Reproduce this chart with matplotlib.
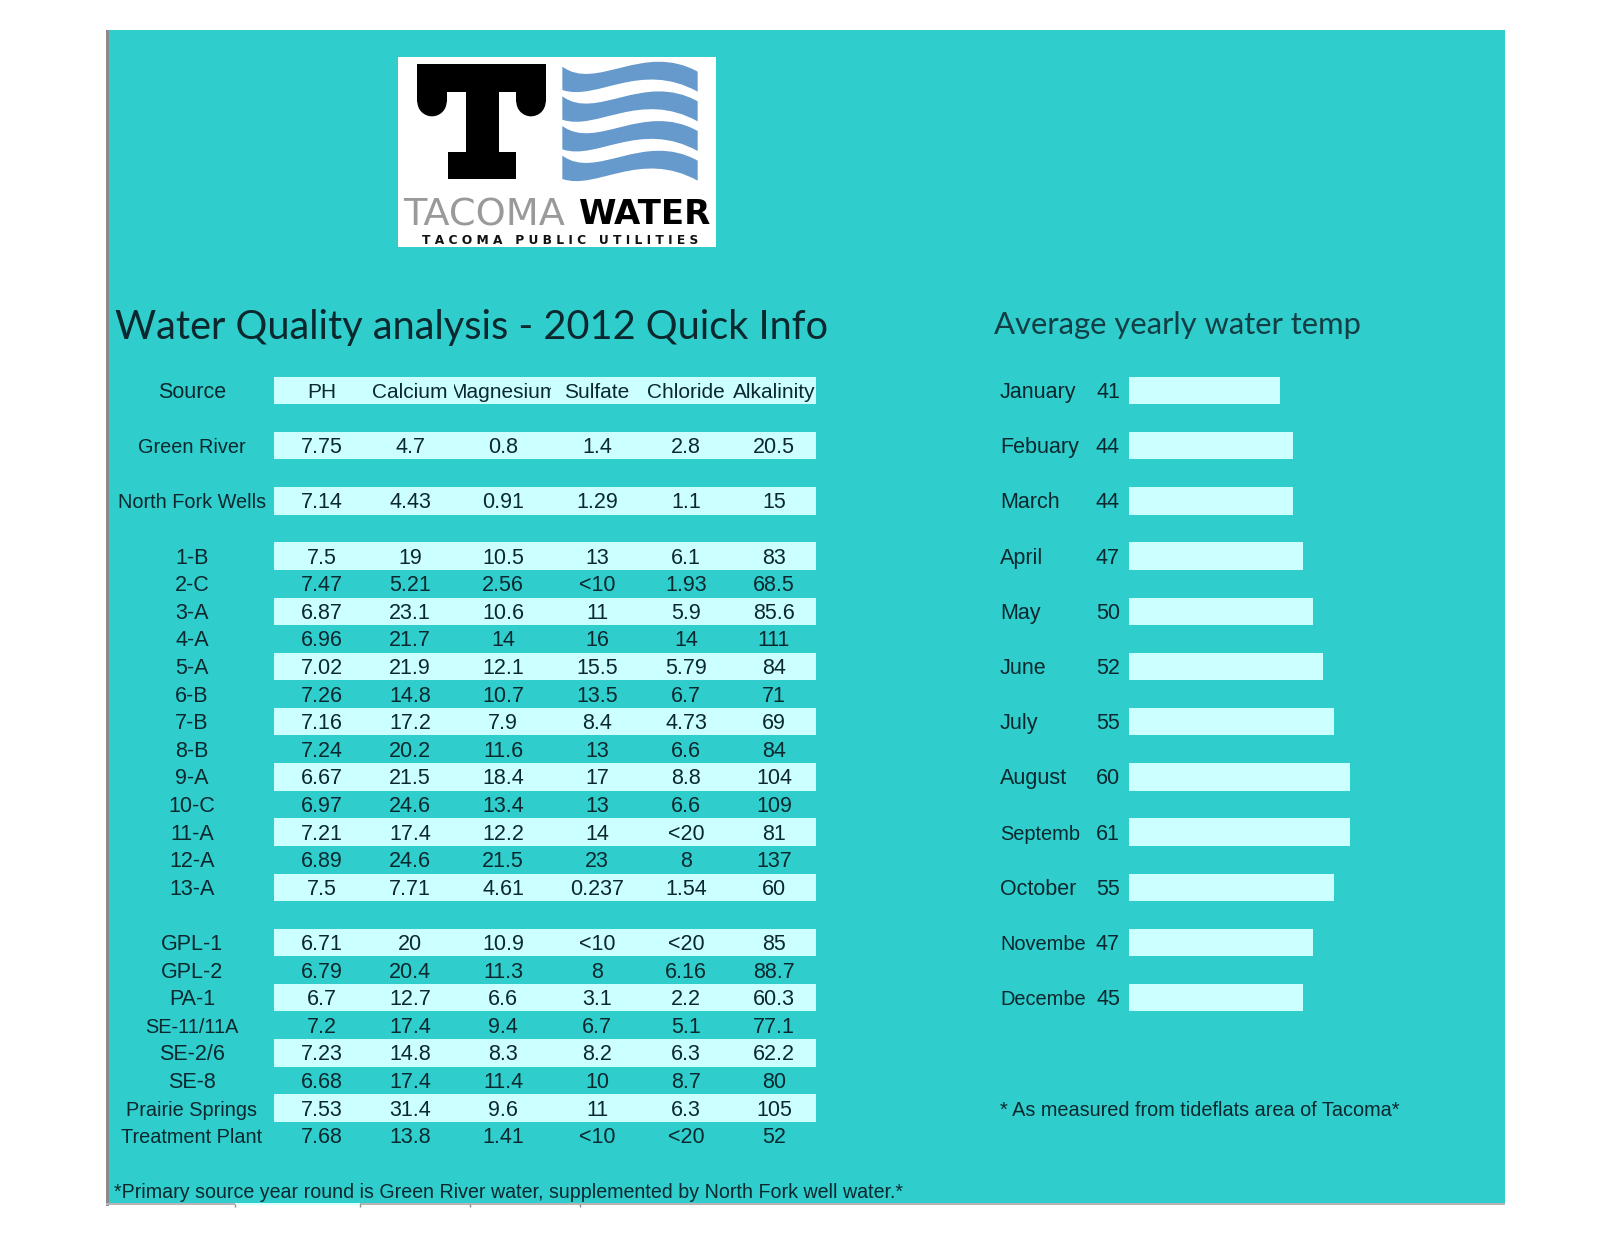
from matplotlib import pyplot as plt
from matplotlib.patches import PathPatch, Rectangle, Circle
from matplotlib.path import Path
from matplotlib.transforms import Bbox, TransformedBbox

# table data, strings kept as printed on the sheet
sources = ['Green River', 'North Fork Wells', '1-B', '2-C', '3-A', '4-A', '5-A', '6-B', '7-B', '8-B',
           '9-A', '10-C', '11-A', '12-A', '13-A', 'GPL-1', 'GPL-2', 'PA-1', 'SE-11/11A', 'SE-2/6',
           'SE-8', 'Prairie Springs', 'Treatment Plant']
source_rows = [2, 4, 6, 7, 8, 9, 10, 11, 12, 13, 14, 15, 16, 17, 18, 20, 21, 22, 23, 24, 25, 26, 27]
columns = ['PH', 'Calcium', 'Magnesium', 'Sulfate', 'Chloride', 'Alkalinity']
ph = ['7.75', '7.14', '7.5', '7.47', '6.87', '6.96', '7.02', '7.26', '7.16', '7.24', '6.67', '6.97',
      '7.21', '6.89', '7.5', '6.71', '6.79', '6.7', '7.2', '7.23', '6.68', '7.53', '7.68']
calcium = ['4.7', '4.43', '19', '5.21', '23.1', '21.7', '21.9', '14.8', '17.2', '20.2', '21.5', '24.6',
           '17.4', '24.6', '7.71', '20', '20.4', '12.7', '17.4', '14.8', '17.4', '31.4', '13.8']
magnesium = ['0.8', '0.91', '10.5', '2.56', '10.6', '14', '12.1', '10.7', '7.9', '11.6', '18.4', '13.4',
             '12.2', '21.5', '4.61', '10.9', '11.3', '6.6', '9.4', '8.3', '11.4', '9.6', '1.41']
sulfate = ['1.4', '1.29', '13', '<10', '11', '16', '15.5', '13.5', '8.4', '13', '17', '13',
           '14', '23', '0.237', '<10', '8', '3.1', '6.7', '8.2', '10', '11', '<10']
chloride = ['2.8', '1.1', '6.1', '1.93', '5.9', '14', '5.79', '6.7', '4.73', '6.6', '8.8', '6.6',
            '<20', '8', '1.54', '<20', '6.16', '2.2', '5.1', '6.3', '8.7', '6.3', '<20']
alkalinity = ['20.5', '15', '83', '68.5', '85.6', '111', '84', '71', '69', '84', '104', '109',
              '81', '137', '60', '85', '88.7', '60.3', '77.1', '62.2', '80', '105', '52']
# rows with the pale band behind them
band_rows = [0, 2, 4, 6, 8, 10, 12, 14, 16, 18, 20, 22, 24, 26]

# three month names are cut off by the column on the sheet
months = ['January', 'Febuary', 'March', 'April', 'May', 'June', 'July', 'August', 'Septemb',
          'October', 'Novembe', 'Decembe']
cut_months = ['Septemb', 'Novembe', 'Decembe']
month_rows = [0, 2, 4, 6, 8, 10, 12, 14, 16, 18, 20, 22]
temps = [41, 44, 44, 47, 50, 52, 55, 60, 61, 55, 47, 45]
bar_lengths = [41, 44.6, 44.6, 47.3, 50, 52.7, 55.7, 60, 60, 55.7, 50, 47.3]

TEAL = '#30cdcd'
PALE = '#ccffff'
INK = '#0a282d'
SHEET = 'Liberation Sans'

fig = plt.figure(figsize=(16, 12.36), dpi=100, facecolor='white')
ax = fig.add_axes([0, 0, 1, 1])
ax.set_xlim(0, 1600)
ax.set_ylim(1236, 0)
ax.axis('off')


def row_y(r):
    return 390.5 + 27.6 * r


def clipped(x, y, s, x0, x1, size, **kw):
    t = ax.text(x, y, s, va='center', family=SHEET, fontsize=size, color=INK, **kw)
    t.set_clip_box(TransformedBbox(Bbox([[x0, y - 14], [x1, y + 14]]), ax.transData))
    t.set_clip_on(True)
    return t


def draw_logo():
    # logo drawn in zoomed crop units
    def lx(v):
        return 380 + v / 3

    def ly(v):
        return 40 + v / 3

    ax.add_patch(Rectangle((398, 57), 318, 190, fc='white', ec='none', zorder=2))
    black = [(112, 73, 385, 82), (112, 73, 88, 112), (409, 73, 88, 112), (257, 150, 100, 190), (203, 335, 205, 82)]
    for x, y, w, h in black:
        ax.add_patch(Rectangle((lx(x), ly(y)), w / 3, h / 3, fc='black', ec='none', zorder=3))
    for cx in [156, 453]:
        ax.add_patch(Circle((lx(cx), ly(185)), 44 / 3, fc='black', ec='none', zorder=3))
    for i in range(4):
        dy = 89 * i
        verts = [(547, 80), (650, 155), (790, 5), (953, 95), (953, 155), (780, 60), (650, 185), (547, 150), (547, 80)]
        verts = [(lx(x), ly(y + dy)) for x, y in verts]
        codes = [Path.MOVETO, Path.CURVE4, Path.CURVE4, Path.CURVE4, Path.LINETO,
                 Path.CURVE4, Path.CURVE4, Path.CURVE4, Path.CLOSEPOLY]
        ax.add_patch(PathPatch(Path(verts, codes), fc='#6699cc', ec='none', zorder=3))
    ax.text(lx(68), ly(525), 'TACOMA', family='DejaVu Sans', fontsize=27.5, color='#9a9a9a',
            va='center', ha='left', zorder=4)
    ax.text(lx(598), ly(525), 'WATER', family='DejaVu Sans', fontweight='bold', fontsize=24.5, color='black',
            va='center', ha='left', zorder=4)
    ax.text(lx(540), ly(600), 'T A C O M A   P U B L I C   U T I L I T I E S', family='DejaVu Sans',
            fontweight='bold', fontsize=8.8, color='#111111', va='center', ha='center', zorder=4)


# sheet background and its grey edges
ax.add_patch(Rectangle((106, 30), 1399, 1174, fc=TEAL, ec='none', zorder=0))
ax.add_patch(Rectangle((105.5, 30), 3, 1176, fc='#8a8a8a', ec='none', zorder=1))
ax.add_patch(Rectangle((106, 1203), 1399, 2, fc='#b5b5b5', ec='none', zorder=1))
ax.add_patch(Rectangle((235, 1203), 125, 2, fc='#d8ffff', ec='none', zorder=1))
ax.vlines([235, 360, 470, 580], 1204, 1207, color='#8a8a8a', lw=1)

draw_logo()

ax.text(115, 327, 'Water Quality analysis - 2012 Quick Info', family='Lato', fontsize=28.6, color=INK, va='center')
ax.text(994, 325, 'Average yearly water temp', family='Lato', fontsize=22.3, color='#123f45', va='center')

# table bands
ax.barh([row_y(r) for r in band_rows], 542, left=274, height=27.5, color=PALE, zorder=1)

col_x = [321.5, 410, 503, 597, 686, 774]
col_left = [274, 366, 454, 551, 640, 730]
col_right = [366, 454, 551, 640, 730, 816]
TEXT_DROP = 2
ax.text(192, row_y(0) + TEXT_DROP, 'Source', ha='center', va='center', family=SHEET, fontsize=15.5, color=INK)
for i, name in enumerate(columns):
    clipped(col_x[i], row_y(0) + TEXT_DROP, name, col_left[i], col_right[i], 15, ha='center')
for i, name in enumerate(sources):
    y = row_y(source_rows[i]) + TEXT_DROP
    # long labels sit tighter on the sheet than short ones
    size = 14.3 if len(name) > 6 else 15.5
    ax.text(192, y, name, ha='center', va='center', family=SHEET, fontsize=size, color=INK)
    for x, series in zip(col_x, [ph, calcium, magnesium, sulfate, chloride, alkalinity]):
        ax.text(x, y, series[i], ha='center', va='center', family=SHEET, fontsize=15.5, color=INK)

# temperature side
ax.barh([row_y(r) for r in month_rows], [v * 3.68 for v in bar_lengths], left=1129, height=27.5, color=PALE, zorder=1)
for r, name, temp in zip(month_rows, months, temps):
    y = row_y(r) + TEXT_DROP
    size = 14.4 if name in cut_months else 15.5
    ax.text(1000, y, name, ha='left', va='center', family=SHEET, fontsize=size, color=INK)
    ax.text(1120, y, str(temp), ha='right', va='center', family=SHEET, fontsize=15.5, color=INK)

ax.text(1000, row_y(26) + TEXT_DROP, '* As measured from tideflats area of Tacoma*', ha='left', va='center',
        family=SHEET, fontsize=14.3, color=INK)
ax.text(114, row_y(29) + TEXT_DROP, '*Primary source year round is Green River water, supplemented by North Fork well water.*',
        ha='left', va='center', family=SHEET, fontsize=14.15, color=INK)

plt.savefig('out.png', dpi=100)
